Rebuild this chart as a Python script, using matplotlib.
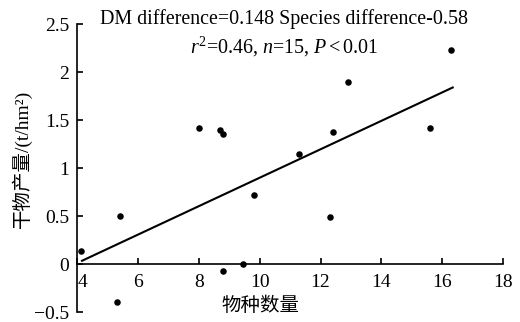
import numpy as np
import matplotlib
matplotlib.use('Agg')
import matplotlib.pyplot as plt
import matplotlib as mpl
import matplotlib.transforms as mtransforms

mpl.rcParams.update({
    'font.family':      ['Liberation Serif', 'Noto Sans CJK SC'],
    'font.size':        14,
    'mathtext.fontset': 'custom',
    'mathtext.rm':      'Liberation Serif',
    'mathtext.it':      'Liberation Serif:italic',
    'axes.unicode_minus': True,
})

# species count vs dry matter yield (t/hm2)
species_n = [4.1, 5.4, 5.3, 8.0, 8.7, 8.8, 8.8, 9.45, 9.8, 11.3, 12.4, 12.3, 12.9, 15.6, 16.3]
dm_yield  = [0.14, 0.50, -0.40, 1.42, 1.40, 1.36, -0.07, 0.0, 0.72, 1.15, 1.38, 0.49, 1.90, 1.42, 2.23]

# fitted regression
slope     = 0.148
intercept = -0.58
fit_range = [4.15, 16.35]

x_ticks = [4, 6, 8, 10, 12, 14, 16, 18]
y_ticks = [-0.5, 0, 0.5, 1, 1.5, 2, 2.5]
y_ticklabels = ['\u22120.5', '0', '0.5', '1', '1.5', '2', '2.5']

fig = plt.figure(figsize=(5.2, 3.22), dpi=100)
ax = fig.add_axes([0.149, 0.031, 0.818, 0.894])

ax.scatter(species_n, dm_yield, s=22, color='black', zorder=3, linewidths=0)
xf = np.array(fit_range)
ax.plot(xf, slope * xf + intercept, color='black', lw=1.5)

ax.set_xlim(4, 18)
ax.set_ylim(-0.5, 2.5)
ax.spines['top'].set_visible(False)
ax.spines['right'].set_visible(False)
ax.spines['bottom'].set_position(('data', 0))
for sp in ('left', 'bottom'):
    ax.spines[sp].set_linewidth(1.2)

ax.set_xticks(x_ticks)
ax.set_yticks(y_ticks)
ax.set_yticklabels(y_ticklabels)
ax.tick_params(direction='in', length=4, width=1.2, labelsize=14)
ax.tick_params(axis='x', pad=7)
ax.tick_params(axis='y', pad=6)

# nudge the "4" off the y axis, as in the original
lbl = ax.get_xticklabels()[0]
lbl.set_transform(lbl.get_transform() +
                  mtransforms.ScaledTranslation(5 / 100, 0, fig.dpi_scale_trans))

# axis titles (Chinese falls back to Noto Sans CJK SC)
fig.text(0.042, 0.506, '干物产量/(t/hm\u00b2)', rotation=90, ha='center', va='center',
         fontsize=14)
fig.text(0.5, 0.052, '物种数量', ha='center', va='center', fontsize=14,
         family='Noto Sans CJK SC')

fig.text(0.546, 0.94, 'DM difference=0.148 Species difference-0.58',
         ha='center', va='center', fontsize=14.4)
fig.text(0.546, 0.855, r'$r^2$=0.46, $n$=15, $P<$0.01',
         ha='center', va='center', fontsize=14.4)

fig.savefig('out.png', dpi=100)
